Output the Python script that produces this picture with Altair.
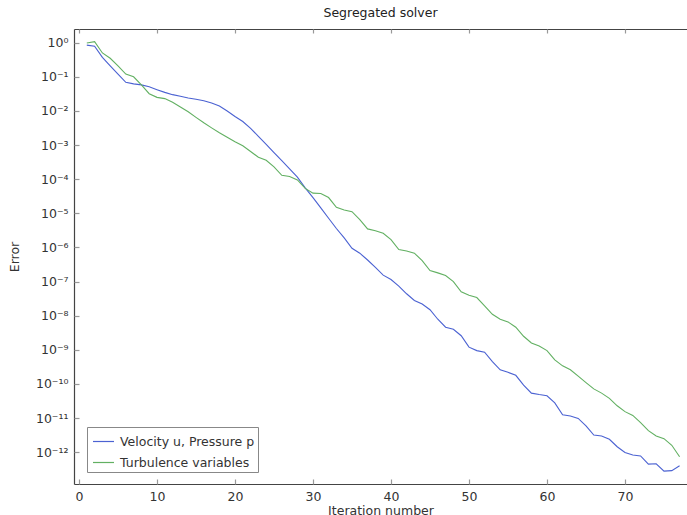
import altair as alt
import pandas as pd

iterations = list(range(1, 78))

velocity_pressure = [
    8.5e-1, 7.9e-1, 3.7e-1, 2.1e-1, 1.2e-1, 6.9e-2, 6.2e-2, 5.8e-2, 5.1e-2, 4.2e-2,
    3.5e-2, 3.0e-2, 2.7e-2, 2.4e-2, 2.2e-2, 2.0e-2, 1.7e-2, 1.4e-2, 1.0e-2, 6.9e-3,
    4.9e-3, 3.1e-3, 1.8e-3, 1.05e-3, 6.0e-4, 3.5e-4, 2.0e-4, 1.15e-4, 5.6e-5, 2.9e-5,
    1.45e-5, 7.2e-6, 3.6e-6, 1.9e-6, 9.5e-7, 6.8e-7, 4.3e-7, 2.6e-7, 1.55e-7, 1.15e-7,
    7.4e-8, 4.4e-8, 2.8e-8, 2.2e-8, 1.5e-8, 7.9e-9, 4.6e-9, 4.0e-9, 2.6e-9, 1.2e-9,
    9.5e-10, 8.5e-10, 4.5e-10, 2.6e-10, 2.2e-10, 1.8e-10, 9.3e-11, 5.4e-11, 4.9e-11, 4.5e-11,
    2.8e-11, 1.26e-11, 1.15e-11, 9.8e-12, 5.9e-12, 3.2e-12, 3.0e-12, 2.4e-12, 1.45e-12, 9.8e-13,
    8.3e-13, 7.8e-13, 4.5e-13, 4.6e-13, 2.8e-13, 2.9e-13, 4.0e-13,
]

turbulence = [
    9.8e-1, 1.07, 5.0e-1, 3.5e-1, 2.1e-1, 1.2e-1, 1.0e-1, 5.8e-2, 3.2e-2, 2.5e-2,
    2.3e-2, 1.8e-2, 1.3e-2, 9.5e-3, 6.5e-3, 4.5e-3, 3.2e-3, 2.3e-3, 1.7e-3, 1.26e-3,
    9.5e-4, 6.5e-4, 4.4e-4, 3.6e-4, 2.3e-4, 1.3e-4, 1.2e-4, 9.5e-5, 5.4e-5, 3.9e-5,
    3.8e-5, 2.9e-5, 1.5e-5, 1.26e-5, 1.12e-5, 6.5e-6, 3.5e-6, 3.1e-6, 2.6e-6, 1.7e-6,
    8.7e-7, 7.9e-7, 6.8e-7, 4.1e-7, 2.1e-7, 1.8e-7, 1.5e-7, 1.0e-7, 5.0e-8, 4.0e-8,
    3.4e-8, 1.95e-8, 1.1e-8, 7.9e-9, 6.6e-9, 4.6e-9, 2.5e-9, 1.6e-9, 1.3e-9, 9.5e-10,
    5.1e-10, 3.4e-10, 2.6e-10, 1.7e-10, 1.1e-10, 7.2e-11, 5.4e-11, 3.8e-11, 2.3e-11, 1.55e-11,
    1.2e-11, 7.4e-12, 4.3e-12, 3.0e-12, 2.5e-12, 1.6e-12, 7.4e-13,
]

series_names = ["Velocity u, Pressure p", "Turbulence variables"]
series_colors = ["#4b62d2", "#62b062"]

x_ticks = [0, 10, 20, 30, 40, 50, 60, 70]
y_ticks = [1e0, 1e-1, 1e-2, 1e-3, 1e-4, 1e-5, 1e-6, 1e-7, 1e-8, 1e-9, 1e-10, 1e-11, 1e-12]
y_tick_labels = ["10⁰", "10⁻¹", "10⁻²", "10⁻³", "10⁻⁴", "10⁻⁵", "10⁻⁶",
                 "10⁻⁷", "10⁻⁸", "10⁻⁹", "10⁻¹⁰", "10⁻¹¹", "10⁻¹²"]

df = pd.DataFrame({
    "iter": iterations * 2,
    "err": velocity_pressure + turbulence,
    "series": [series_names[0]] * len(iterations) + [series_names[1]] * len(iterations),
})

FONT = "DejaVu Sans"
FS = 12.5
x_scale = alt.Scale(domain=[-0.641, 77.95], nice=False, zero=False)
y_scale = alt.Scale(type="log", domain=[10 ** -12.93, 10 ** 0.401], nice=False)

label_expr = "[" + ",".join("'%s'" % s for s in y_tick_labels) + "][round(-log(datum.value)/LN10)]"

main = alt.Chart(df).mark_line(strokeWidth=1.1).encode(
    x=alt.X("iter:Q", scale=x_scale, axis=alt.Axis(
        orient="bottom", values=x_ticks, ticks=False, tickSize=0, domain=True, grid=False,
        labelPadding=6, title="Iteration number", titlePadding=2, format="d")),
    y=alt.Y("err:Q", scale=y_scale, axis=alt.Axis(
        orient="left", values=y_ticks, ticks=False, tickSize=0, domain=True, grid=False,
        labelPadding=6, labelExpr=label_expr, title="Error", titlePadding=14)),
    color=alt.Color("series:N", scale=alt.Scale(domain=series_names, range=series_colors),
                    legend=alt.Legend(
                        title=None, orient="none", legendX=13, legendY=398,
                        symbolType="stroke", symbolSize=441, symbolStrokeWidth=1.2,
                        symbolOffset=2,
                        labelFontSize=FS, labelFont=FONT, labelColor="#333",
                        strokeColor="#888", fillColor="white", padding=3,
                        rowPadding=3, labelOffset=5, cornerRadius=0)),
)

ticks_inner = alt.Chart(df).mark_line(strokeOpacity=0).encode(
    x=alt.X("iter:Q", scale=x_scale, axis=alt.Axis(
        orient="bottom", values=x_ticks, ticks=True, tickSize=5, offset=-5, domain=False,
        labels=False, title=None, grid=False)),
    y=alt.Y("err:Q", scale=y_scale, axis=alt.Axis(
        orient="left", values=y_ticks, ticks=True, tickSize=5, offset=-5, domain=False,
        labels=False, title=None, grid=False)),
    detail="series:N",
)

top_line = alt.Chart(df).mark_line(strokeOpacity=0).encode(
    x=alt.X("iter:Q", scale=x_scale, axis=alt.Axis(
        orient="top", values=x_ticks, ticks=False, tickSize=0, domain=True,
        labels=False, title=None, grid=False)),
    y=alt.Y("err:Q", scale=y_scale, axis=None),
    detail="series:N",
)

top_ticks = alt.Chart(df).mark_line(strokeOpacity=0).encode(
    x=alt.X("iter:Q", scale=x_scale, axis=alt.Axis(
        orient="top", values=x_ticks, ticks=True, tickSize=4, offset=-4, domain=False,
        labels=False, title=None, grid=False)),
    y=alt.Y("err:Q", scale=y_scale, axis=None),
    detail="series:N",
)

chart = alt.layer(main, ticks_inner, top_line, top_ticks).resolve_axis(
    x="independent", y="independent"
).properties(
    width=613, height=455,
    autosize=alt.AutoSizeParams(type="none"),
    padding={"left": 74, "top": 29, "right": 0, "bottom": 31},
    title=alt.TitleParams("Segregated solver", font=FONT, fontSize=FS, fontWeight="normal",
                          color="#222", anchor="middle", offset=9),
).configure_view(stroke=None).configure_axis(
    labelFont=FONT, labelFontSize=FS, labelColor="#333",
    titleFont=FONT, titleFontSize=FS, titleColor="#333", titleFontWeight="normal",
    domainColor="#444", domainWidth=1.2, tickColor="#999", tickWidth=1.2,
)

chart.save("out.html", embed_options={"renderer": "svg", "actions": False})
